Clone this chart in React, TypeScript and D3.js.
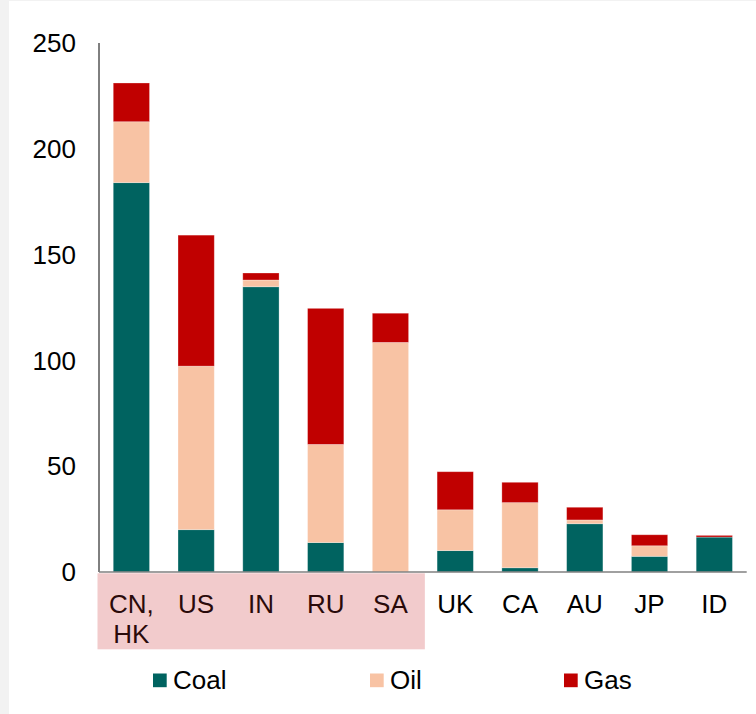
import React from "react";
import * as d3 from "d3";

// Emissions by country, split by fuel
const countries = ["CN,\nHK", "US", "IN", "RU", "SA", "UK", "CA", "AU", "JP", "ID"];
const coal = [184, 20, 134.8, 13.9, 0, 10.1, 2, 22.8, 7.4, 16.5];
const oil = [28.8, 77.3, 3.2, 46.4, 108.5, 19.3, 30.8, 1.8, 5, 0];
const gas = [18.3, 61.9, 3.3, 64.3, 13.8, 18, 9.6, 6, 5.2, 0.8];
const yTicks = [0, 50, 100, 150, 200, 250];
const fuels = ["Coal", "Oil", "Gas"];
const highlighted = ["CN,\nHK", "US", "IN", "RU", "SA"];

const colors: Record<string, string> = {
  Coal: "#006360",
  Oil: "#f8c3a4",
  Gas: "#c00000",
};

const W = 756;
const H = 714;
const left = 99;
const right = 746.7;
const top = 43;
const bottom = 572;
const font = "'Liberation Sans', Arial, sans-serif";

export default function App() {
  const x = d3
    .scaleBand<string>()
    .domain(countries)
    .range([left, right])
    .paddingInner(0.44)
    .paddingOuter(0.22);
  const y = d3.scaleLinear().domain([0, 250]).range([bottom, top]);

  const rows = countries.map((c, i) => ({ country: c, Coal: coal[i], Oil: oil[i], Gas: gas[i] }));
  const stacked = d3.stack<any>().keys(fuels)(rows);

  const gap = (x.step() - x.bandwidth()) / 2;
  const hiFirst = x(highlighted[0])! - gap - 1.5;
  const hiLast = x(highlighted[highlighted.length - 1])! + x.bandwidth() + gap + 2;

  const legendX = [153, 370, 564];

  return (
    <svg
      width={W}
      height={H}
      style={{ position: "absolute", left: 0, top: 0, background: "#f2f2f2" }}
      fontFamily={font}
    >
      <rect x={9} y={1} width={W - 9} height={H - 1} fill="#ffffff" />

      {/* highlight band behind the first group of labels */}
      <rect x={hiFirst} y={bottom + 1.3} width={hiLast - hiFirst} height={76} fill="#f2cbcc" />

      {/* stacked bars */}
      {stacked.map((layer) => (
        <g key={layer.key} fill={colors[layer.key]}>
          {layer.map((d, i) =>
            d[1] - d[0] > 0 ? (
              <rect
                key={i}
                x={x(countries[i])}
                y={y(d[1])}
                width={x.bandwidth()}
                height={y(d[0]) - y(d[1])}
                stroke="#ffffff"
                strokeOpacity={0.35}
                strokeWidth={0.8}
              />
            ) : null
          )}
        </g>
      ))}

      {/* axes */}
      <line x1={left} x2={left} y1={top} y2={bottom} stroke="#000" strokeWidth={1} />
      <line x1={left} x2={right} y1={bottom} y2={bottom} stroke="#808080" strokeWidth={1.5} />

      {yTicks.map((t) => (
        <text key={t} x={76} y={y(t)} dy="0.35em" textAnchor="end" fontSize={26} fill="#000">
          {t}
        </text>
      ))}

      {countries.map((c) => {
        const lines = c.split("\n");
        const cx = x(c)! + x.bandwidth() / 2;
        const isHi = highlighted.includes(c);
        return (
          <text key={c} textAnchor="middle" fontSize={26} fill={isHi ? "#2a0a0a" : "#000"}>
            {lines.map((l, j) => (
              <tspan key={j} x={cx} y={612.5 + j * 30}>
                {l}
              </tspan>
            ))}
          </text>
        );
      })}

      {/* legend */}
      {fuels.map((f, i) => (
        <g key={f}>
          <rect x={legendX[i]} y={673.5} width={13.7} height={13.7} fill={colors[f]} />
          <text x={legendX[i] + 20} y={689} fontSize={26} fill="#000">
            {f}
          </text>
        </g>
      ))}
    </svg>
  );
}
